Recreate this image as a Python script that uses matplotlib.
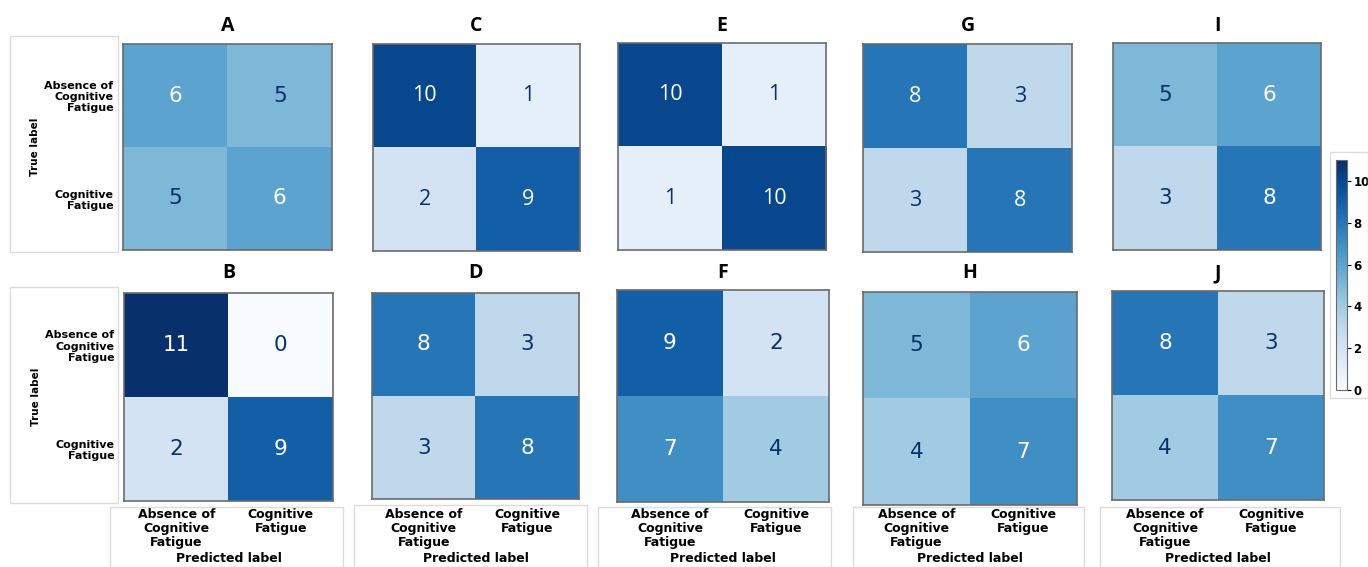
import numpy as np
import matplotlib.pyplot as plt
from matplotlib.patches import Rectangle
from matplotlib.colors import Normalize

# Confusion matrices for each panel
panel_names = ["A", "C", "E", "G", "I", "B", "D", "F", "H", "J"]
cm_A = [[6, 5], [5, 6]]
cm_B = [[11, 0], [2, 9]]
cm_C = [[10, 1], [2, 9]]
cm_D = [[8, 3], [3, 8]]
cm_E = [[10, 1], [1, 10]]
cm_F = [[9, 2], [7, 4]]
cm_G = [[8, 3], [3, 8]]
cm_H = [[5, 6], [4, 7]]
cm_I = [[5, 6], [3, 8]]
cm_J = [[8, 3], [4, 7]]
matrices = {"A": cm_A, "B": cm_B, "C": cm_C, "D": cm_D, "E": cm_E,
            "F": cm_F, "G": cm_G, "H": cm_H, "I": cm_I, "J": cm_J}
class_labels = ["Absence of\nCognitive\nFatigue", "Cognitive\nFatigue"]
cbar_ticks = [0, 2, 4, 6, 8, 10]
vmax = 11

W, H = 1368, 567
fig = plt.figure(figsize=(W / 100, H / 100), dpi=100)

# pixel boxes (left, top, right, bottom) of each panel
boxes = {
    "A": (123, 44, 332, 250), "C": (373, 44, 580, 251), "E": (618, 43, 826, 250),
    "G": (863, 44, 1072, 252), "I": (1113, 43, 1321, 250),
    "B": (124, 293, 333, 501), "D": (372, 293, 579, 499), "F": (617, 290, 829, 502),
    "H": (863, 292, 1077, 505), "J": (1112, 291, 1324, 500),
}
# the top-row C, E, G numbers were typeset in another font in the original
num_font = {"C": "Open Sans", "E": "Open Sans", "G": "Open Sans"}

def px_axes(l, t, r, b):
    return fig.add_axes([l / W, 1 - b / H, (r - l) / W, (b - t) / H])

def frame(l, t, r, b):
    fig.patches.append(Rectangle((l / W, 1 - b / H), (r - l) / W, (b - t) / H,
                                 transform=fig.transFigure, fill=False,
                                 edgecolor="#dcdcdc", linewidth=1.0))

norm = Normalize(0, vmax)
cmap = plt.get_cmap("Blues")
im = None
for name in panel_names:
    l, t, r, b = boxes[name]
    ax = px_axes(l, t, r, b)
    cm = np.array(matrices[name])
    im = ax.imshow(cm, cmap=cmap, norm=norm, aspect="auto")
    fam = num_font.get(name, "DejaVu Sans")
    for i in range(2):
        for j in range(2):
            v = cm[i, j]
            col = "white" if v > vmax / 2 else "#08306b"
            ax.text(j, i, str(v), ha="center", va="center", color=col,
                    fontsize=15.5, family=fam)
    for s in ax.spines.values():
        s.set_color("#6b6b6b")
        s.set_linewidth(1.2)
    ax.tick_params(length=0)
    ax.set_xticks([0, 1])
    ax.set_yticks([0, 1])
    if name in ("A", "B"):
        ax.set_yticklabels(class_labels, fontsize=8, fontweight="bold", linespacing=1.15)
        ax.tick_params(axis="y", pad=7)
        ax.set_ylabel("True label", fontsize=7.5, fontweight="bold", labelpad=3)
    else:
        ax.set_yticklabels([])
    if name in ("B", "D", "F", "H", "J"):
        ax.set_xticklabels(class_labels, fontsize=9, fontweight="bold",
                           linespacing=1.1, va="top")
        # keep the label rows level even though the panels end at slightly different heights
        ax.tick_params(axis="x", pad=(508 - b) * 0.72)
        fig.text(((l + r) / 2) / W, 1 - 559 / H, "Predicted label", ha="center",
                 va="center", fontsize=9, fontweight="bold")
    else:
        ax.set_xticklabels([])
    ty = 26 if t < 200 else 273
    fig.text(((l + r) / 2) / W, 1 - ty / H, name, ha="center", va="center",
             fontsize=14, fontweight="bold", family="Open Sans")

# faint frames from the pasted sub-images
frame(10, 36, 118, 252)
frame(10, 287, 118, 503)
frame(110, 507, 343, 567)
frame(354, 505, 587, 567)
frame(598, 507, 831, 567)
frame(853, 507, 1084, 567)
frame(1100, 507, 1340, 567)
frame(1330, 152, 1368, 398)

cax = px_axes(1336, 160, 1347, 390)
cb = fig.colorbar(im, cax=cax, ticks=cbar_ticks)
cb.outline.set_edgecolor("#6b6b6b")
cb.ax.tick_params(labelsize=8.5, length=3, width=0.8, pad=1.5)
for lbl in cb.ax.get_yticklabels():
    lbl.set_fontweight("bold")

fig.savefig("out.png", dpi=100)
